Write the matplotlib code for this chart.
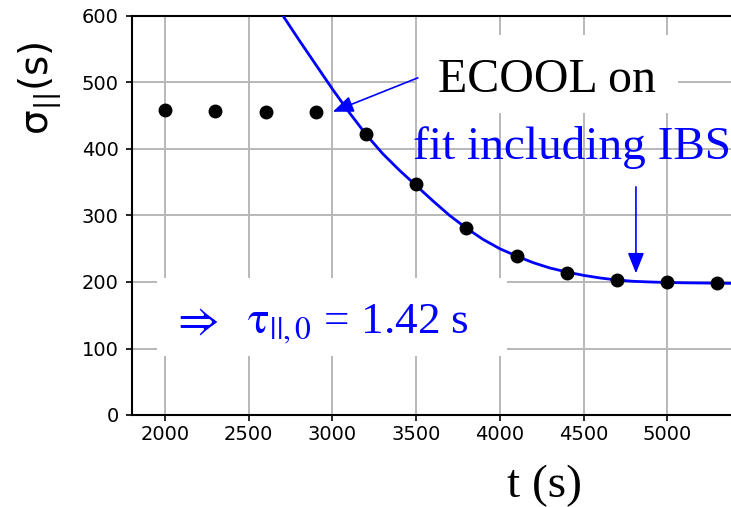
import matplotlib
matplotlib.use("Agg")
import matplotlib.pyplot as plt
from matplotlib.patches import Rectangle

# Measured bunch length during electron cooling
t_meas = [2000, 2300, 2600, 2900, 3200, 3500, 3800, 4100, 4400, 4700, 5000, 5300]
sigma_meas = [459, 457, 455, 455, 422, 347, 281, 239, 214, 203, 199.5, 198]

# Fitted cooling curve (model including intra-beam scattering)
t_fit = [2700, 2800, 2900, 3000, 3100, 3200, 3300, 3400, 3500, 3600, 3700,
         3800, 3900, 4000, 4100, 4200, 4300, 4400, 4500, 4600, 4700, 4800,
         4900, 5000, 5100, 5200, 5300, 5400]
sigma_fit = [602, 564, 527, 490, 455, 422, 393, 368, 345, 322, 300,
             281, 264, 250, 239, 229, 221, 215, 210, 206, 203, 201,
             200, 199.3, 198.8, 198.5, 198.2, 198]

x_ticks = [2000, 2500, 3000, 3500, 4000, 4500, 5000]
y_ticks = [0, 100, 200, 300, 400, 500, 600]

BLUE = "#0000ff"
SERIF = ["Liberation Serif", "DejaVu Serif"]

W, H = 731, 507
fig = plt.figure(figsize=(W / 100, H / 100), dpi=100)
ax = fig.add_axes([131.6 / W, 1 - 415 / H, 602.6 / W, 399 / H])

ax.set_axisbelow(True)
ax.grid(True, color="#b8b8b8", lw=1.4)
ax.plot(t_fit, sigma_fit, color=BLUE, lw=2.0, zorder=3)
ax.plot(t_meas, sigma_meas, "o", color="black", ms=9, zorder=4)

ax.set_xlim(1800, 5400)
ax.set_ylim(0, 600)
ax.set_xticks(x_ticks)
ax.set_yticks(y_ticks)
ax.tick_params(axis="both", labelsize=14, length=4.2, width=1.2)
ax.tick_params(axis="x", pad=3)
ax.tick_params(axis="y", pad=5)
for side in ("left", "bottom", "top"):
    ax.spines[side].set_linewidth(1.5)
ax.spines["right"].set_visible(False)

# white backgrounds behind the annotations
ax.add_patch(Rectangle((0.4736, 0.757), 0.9067 - 0.4736, 0.952 - 0.757,
                       transform=ax.transAxes, facecolor="white",
                       edgecolor="none", zorder=1))
ax.add_patch(Rectangle((0.0421, 0.1479), 0.623 - 0.0421, 0.3434 - 0.1479,
                       transform=ax.transAxes, facecolor="white",
                       edgecolor="none", zorder=1))

arrow = dict(arrowstyle="-|>,head_length=0.5,head_width=0.2", color=BLUE,
             lw=1.2, mutation_scale=25, shrinkA=0, shrinkB=0)
ax.annotate("", xy=(3002, 456), xytext=(3510, 507), arrowprops=arrow, zorder=5)
ax.annotate("", xy=(4813, 213), xytext=(4813, 343), arrowprops=arrow, zorder=5)

fig.text(438 / W, 1 - 92 / H, "ECOOL on", family=SERIF, fontsize=34.5,
         color="black", ha="left", va="baseline")
fig.text(413 / W, 1 - 159 / H, "fit including IBS", family=SERIF,
         fontsize=34, color=BLUE, ha="left", va="baseline")
fig.text(171 / W, 1 - 333 / H,
         r"$\Rightarrow\ \ \mathrm{\tau}_{\mathrm{||,0}}$ = 1.42 s",
         family=SERIF, math_fontfamily="stix", fontsize=32.5, color=BLUE,
         ha="left", va="baseline")

fig.text(507 / W, 1 - 497 / H, "t (s)", family=SERIF, fontsize=34,
         color="black", ha="left", va="baseline")
fig.text(40 / W, 1 - 88 / H, r"$\mathrm{\sigma}_{||}$(s)",
         math_fontfamily="dejavusans", fontsize=28, rotation=90,
         ha="center", va="center", color="black")

fig.savefig("out.png", dpi=100)
